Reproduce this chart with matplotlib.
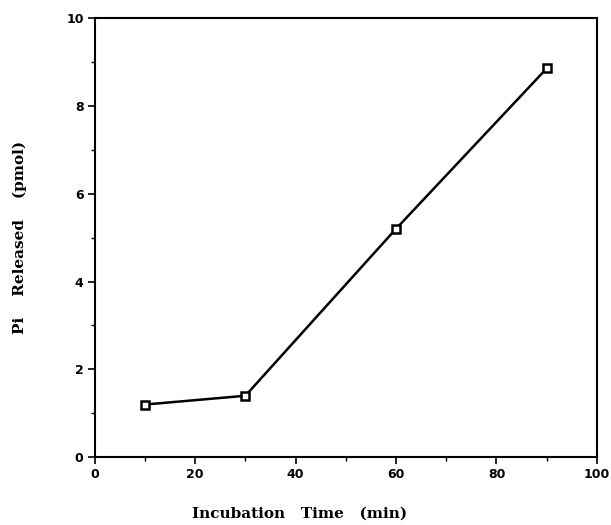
import numpy as np
import matplotlib
matplotlib.use('Agg')
import matplotlib.pyplot as plt
from matplotlib.ticker import MultipleLocator

# incubation time (min) vs Pi released (pmol)
time_min = [10, 30, 60, 90]
pi_pmol = [1.2, 1.4, 5.2, 8.85]

fig = plt.figure(figsize=(6.11, 5.25), dpi=100)
ax = fig.add_axes([0.155, 0.129, 0.822, 0.837])

ax.plot(time_min, pi_pmol, color='black', lw=1.8,
        marker='s', ms=5.5, mfc='white', mec='black', mew=1.8)

ax.set_xlim(0, 100)
ax.set_ylim(0, 10)
ax.xaxis.set_major_locator(MultipleLocator(20))
ax.xaxis.set_minor_locator(MultipleLocator(10))
ax.yaxis.set_major_locator(MultipleLocator(2))
ax.yaxis.set_minor_locator(MultipleLocator(1))
ax.tick_params(which='major', direction='out', length=5, width=1.2,
               labelsize=9, pad=3)
ax.tick_params(which='minor', direction='out', length=3, width=1)
for lab in ax.get_xticklabels() + ax.get_yticklabels():
    lab.set_fontweight('bold')
    lab.set_family('DejaVu Sans')
for s in ax.spines.values():
    s.set_linewidth(1.5)

ax.set_xlabel('Incubation   Time   (min)', family='DejaVu Serif',
              fontsize=11, fontweight='bold')
ax.xaxis.set_label_coords(0.408, -0.112)
ax.set_ylabel('Pi    Released    (pmol)', family='DejaVu Serif',
              fontsize=11, fontweight='bold')
ax.yaxis.set_label_coords(-0.135, 0.5)

fig.savefig('out.png', dpi=100)
